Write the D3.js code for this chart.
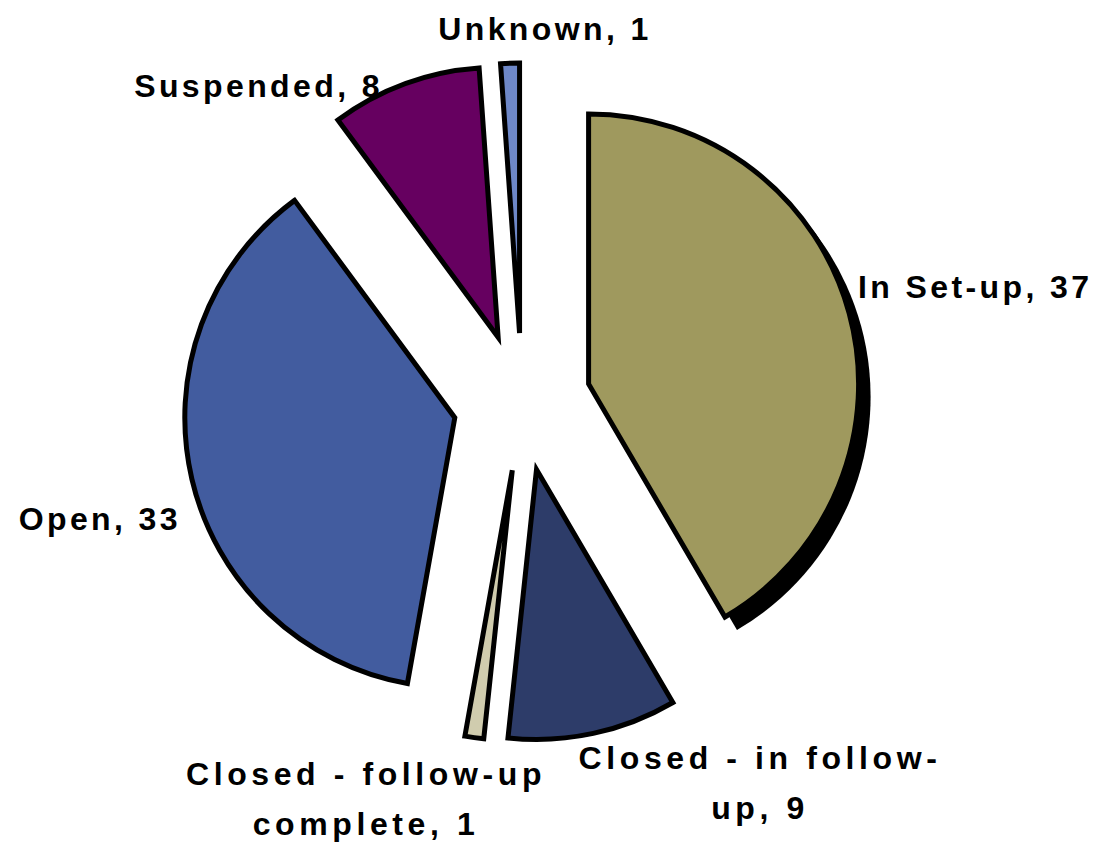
<html>
<head>
    <title>Status pie</title>
    <script src="https://d3js.org/d3.v7.min.js" charset="utf-8"></script>
    <style>
        body { margin: 0; background: #fff; }
        .lbl {
            font-family: "Liberation Sans", Arial, sans-serif;
            font-weight: bold;
            font-size: 32px;
            letter-spacing: 3.4px;
            fill: #000;
        }
        .lbl.wide { letter-spacing: 4.6px; }
    </style>
</head>
<body>
<script>
    // slice data, clockwise from 12 o'clock
    var categories = ["In Set-up", "Closed - in follow-up", "Closed - follow-up complete", "Open", "Suspended", "Unknown"];
    var values = [37, 9, 1, 33, 8, 1];
    var colors = ["#9F995E", "#2D3C69", "#D0CCAE", "#425C9F", "#660060", "#6E88C8"];

    // label text lines and placement (anchor, x, y of first baseline)
    var labelLines = [
        ["In Set-up, 37"],
        ["Closed - in follow-", "up, 9"],
        ["Closed - follow-up", "complete, 1"],
        ["Open, 33"],
        ["Suspended, 8"],
        ["Unknown, 1"]
    ];
    var labelPos = [
        {x: 858, y: 298, a: "start"},
        {x: 760, y: 769, a: "middle"},
        {x: 366, y: 785, a: "middle"},
        {x: 181, y: 530, a: "end"},
        {x: 383, y: 97, a: "end"},
        {x: 545, y: 40, a: "middle"}
    ];

    var width = 1104, height = 842;
    var cx = 522, cy = 402, radius = 270, explode = 69;

    var svg = d3.select("body").append("svg")
        .attr("width", width)
        .attr("height", height);

    var pie = d3.pie().sort(null).value(function(d) { return d; });
    var arcs = pie(values);

    var arc = d3.arc().innerRadius(0).outerRadius(radius);

    function offset(d) {
        var m = (d.startAngle + d.endAngle) / 2;
        return [cx + explode * Math.sin(m), cy - explode * Math.cos(m)];
    }

    var g = svg.append("g");

    // drop shadow behind the largest slice
    g.append("path")
        .datum(arcs[0])
        .attr("d", arc)
        .attr("fill", "#000")
        .attr("transform", function(d) {
            var o = offset(d);
            return "translate(" + (o[0] + 12) + "," + (o[1] + 13) + ")";
        });

    g.selectAll("path.slice")
        .data(arcs)
        .enter()
        .append("path")
        .attr("class", "slice")
        .attr("d", arc)
        .attr("fill", function(d, i) { return colors[i]; })
        .attr("stroke", "#000")
        .attr("stroke-width", 5)
        .attr("stroke-linejoin", "miter")
        .attr("transform", function(d) {
            var o = offset(d);
            return "translate(" + o[0] + "," + o[1] + ")";
        });

    var labels = svg.selectAll("text.lbl")
        .data(categories)
        .enter()
        .append("text")
        .attr("class", function(d, i) { return labelLines[i].length > 1 ? "lbl wide" : "lbl"; })
        .attr("text-anchor", function(d, i) { return labelPos[i].a; });

    labels.each(function(d, i) {
        var t = d3.select(this);
        labelLines[i].forEach(function(line, j) {
            t.append("tspan")
                .attr("x", labelPos[i].x)
                .attr("y", labelPos[i].y + j * 50)
                .text(line);
        });
    });
</script>
</body>
</html>
